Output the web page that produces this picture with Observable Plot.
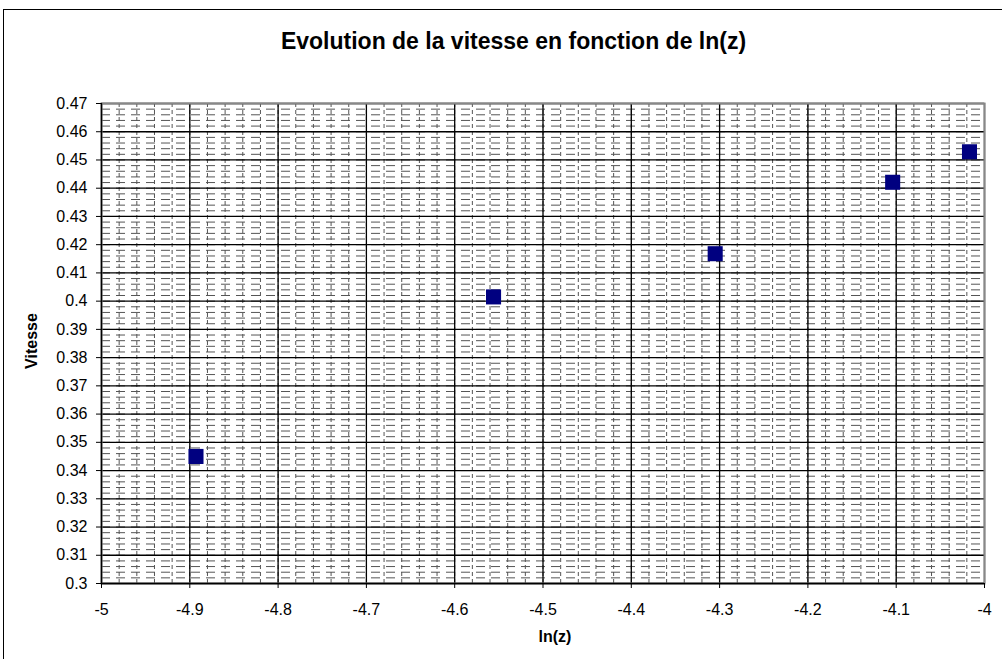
<!DOCTYPE html>
<html><head><meta charset="utf-8">
<script src="https://cdn.jsdelivr.net/npm/d3@7"></script>
<script src="https://cdn.jsdelivr.net/npm/@observablehq/plot@0.6"></script>
<style>
body{margin:0;background:#fff;font-family:"Liberation Sans",Arial,sans-serif;}
#wrap{position:relative;width:1002px;height:659px;overflow:hidden;background:#fff;}
#border{position:absolute;left:3px;top:9px;width:1100px;height:700px;border:1.5px solid #000;}
#chart{position:absolute;left:0;top:0;}
#title{position:absolute;left:0;width:1027px;text-align:center;top:28px;font-weight:bold;font-size:23px;}
.axlab{position:absolute;font-weight:bold;font-size:16px;white-space:nowrap;}
#ylab{left:32px;top:341px;transform:translate(-50%,-50%) rotate(-90deg);}
#xlab{left:555px;top:637px;transform:translate(-50%,-50%);}
</style></head><body>
<div id="wrap">
<div id="border"></div>
<div id="chart"></div>
<div id="title">Evolution de la vitesse en fonction de ln(z)</div>
<div class="axlab" id="ylab">Vitesse</div>
<div class="axlab" id="xlab">ln(z)</div>
</div>
<script>
const lnz = [-4.893, -4.556, -4.305, -4.104, -4.017];
const vitesse = [0.345, 0.4015, 0.4168, 0.4421, 0.4529];
const xTicks = [-5, -4.9, -4.8, -4.7, -4.6, -4.5, -4.4, -4.3, -4.2, -4.1, -4];
const yTicks = [0.3, 0.31, 0.32, 0.33, 0.34, 0.35, 0.36, 0.37, 0.38, 0.39, 0.4, 0.41, 0.42, 0.43, 0.44, 0.45, 0.46, 0.47];

const data = lnz.map((x, i) => ({x, y: vitesse[i]}));

const chart = Plot.plot({
  width: 1002,
  height: 659,
  marginLeft: 101,
  marginRight: 18,
  marginTop: 103,
  marginBottom: 76,
  style: {fontSize: "16px", fontFamily: "'Liberation Sans', Arial, sans-serif", background: "none", color: "#000"},
  x: {domain: [-5, -4], label: null},
  y: {domain: [0.3, 0.47], label: null},
  marks: [
    Plot.gridX({ticks: 50, stroke: "#555", strokeOpacity: 1, strokeDasharray: "4,3"}),
    Plot.gridY({ticks: 85, stroke: "#555", strokeOpacity: 1, strokeDasharray: "9,6"}),
    Plot.gridX(xTicks, {stroke: "#000", strokeOpacity: 1, strokeWidth: 1.3}),
    Plot.gridY(yTicks, {stroke: "#000", strokeOpacity: 1, strokeWidth: 1.3}),
    Plot.frame({stroke: "#888", strokeWidth: 2}),
    Plot.ruleX([-5], {stroke: "#000", strokeWidth: 1.3}),
    Plot.ruleY([0.3], {stroke: "#000", strokeWidth: 1.3}),
    Plot.axisX(xTicks, {tickSize: 5, tickPadding: 15, tickFormat: d => String(d), label: null}),
    Plot.axisY(yTicks, {tickSize: 5, tickPadding: 9, tickFormat: d => String(d), label: null}),
    Plot.dot(data, {x: "x", y: "y", symbol: "square", r: 8.5, fill: "#000080", stroke: "none"})
  ]
});
document.getElementById("chart").appendChild(chart);
</script>
</body></html>
